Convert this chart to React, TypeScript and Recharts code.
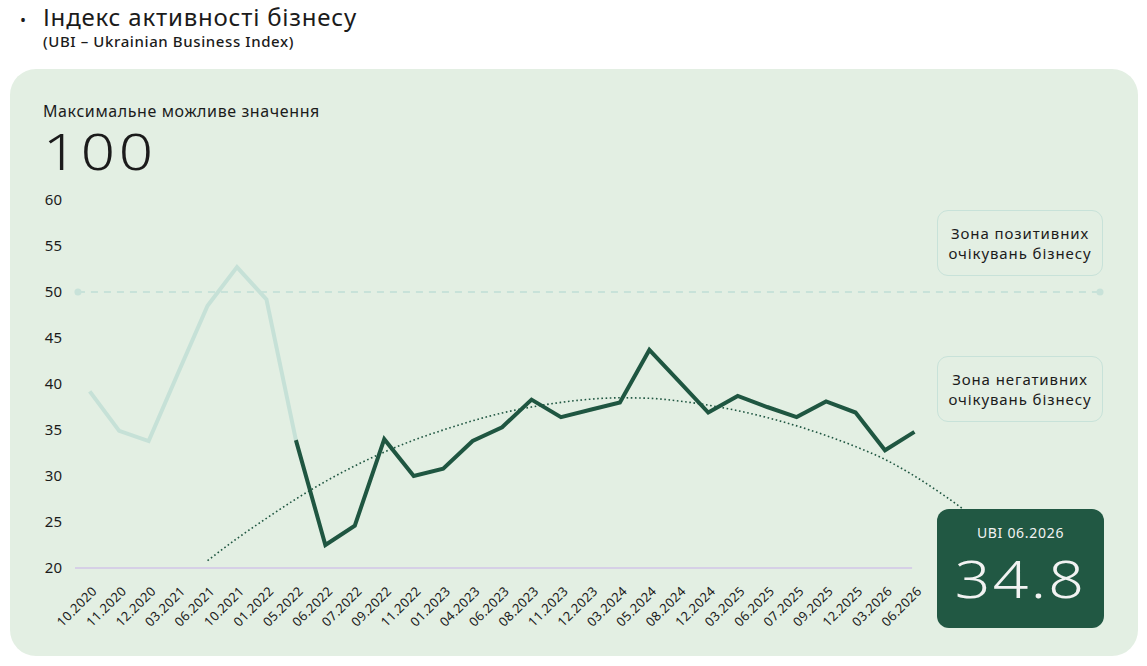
import React from 'react';
import {
  LineChart,
  Line,
  XAxis,
  YAxis,
  ReferenceLine,
  ReferenceDot,
} from 'recharts';

const categories = [
  '10.2020', '11.2020', '12.2020', '03.2021', '06.2021', '10.2021', '01.2022', '05.2022',
  '06.2022', '07.2022', '09.2022', '11.2022', '01.2023', '04.2023', '06.2023', '08.2023',
  '11.2023', '12.2023', '03.2024', '05.2024', '08.2024', '12.2024', '03.2025', '06.2025',
  '07.2025', '09.2025', '12.2025', '03.2026', '06.2026',
];

// 10.2020 – 05.2022 (light line)
const earlyValues = [39.2, 34.9, 33.8, 41.2, 48.5, 52.7, 49.2, 33.9];
const earlyStart = 0;

// 05.2022 – 06.2026 (dark line)
const recentValues = [
  33.9, 22.5, 24.6, 34.0, 30.0, 30.8, 33.8, 35.3, 38.3, 36.4, 37.2, 38.0,
  43.7, 40.3, 36.9, 38.7, 37.5, 36.4, 38.1, 36.9, 32.8, 34.8,
];
const recentStart = 7;

// dotted trend, 06.2021 – 06.2026, plus extrapolated tail
const trendValues = [
  20.8, 23.2, 25.4, 27.5, 29.4, 31.1, 32.6, 33.9, 35.0, 36.0, 36.85, 37.5, 38.0,
  38.35, 38.5, 38.45, 38.15, 37.7, 37.1, 36.35, 35.45, 34.4, 33.2, 31.8, 30.0,
];
const trendStart = 4;
const trendTail = [
  { at: 29, value: 27.9 },
  { at: 30, value: 25.6 },
];

const yTicks = [20, 25, 30, 35, 40, 45, 50, 55, 60];
const thresholdValue = 50;
const latestLabel = 'UBI 06.2026';
const latestValue = '34.8';

const rows: any[] = categories.map((c, i) => ({
  i,
  early: i >= earlyStart && i < earlyStart + earlyValues.length ? earlyValues[i - earlyStart] : undefined,
  recent: i >= recentStart && i < recentStart + recentValues.length ? recentValues[i - recentStart] : undefined,
  trend: i >= trendStart && i < trendStart + trendValues.length ? trendValues[i - trendStart] : undefined,
}));
trendTail.forEach((t) => rows.push({ i: t.at, trend: t.value }));

const FONT = '"Noto Sans", sans-serif';
const TEXT = '#1b1b1b';
const PANEL = '#E3EFE3';
const DARK = '#1F5641';
const LIGHT = '#C6E1D7';
const DASH = '#C8E2D9';
const AXIS = '#D6D0E6';

const XTick = (props: any) => {
  const { x, y, payload } = props;
  const tx = x + 8;
  const ty = y + 24;
  return (
    <text
      x={tx}
      y={ty}
      textAnchor="end"
      transform={`rotate(-45, ${tx}, ${ty})`}
      fontSize={13}
      letterSpacing={0.3}
      fill={TEXT}
      fontFamily={FONT}
    >
      {categories[payload.value]}
    </text>
  );
};

const zoneBox = (top: number, lines: string[]) => (
  <div
    style={{
      position: 'absolute',
      left: 937,
      top,
      width: 166,
      height: 66,
      border: `1.5px solid ${DASH}`,
      borderRadius: 11,
      boxSizing: 'border-box',
      display: 'flex',
      flexDirection: 'column',
      alignItems: 'center',
      justifyContent: 'center',
      fontSize: 15,
      lineHeight: '20px',
      letterSpacing: 0.9,
      color: TEXT,
      fontFamily: FONT,
    }}
  >
    {lines.map((l) => (
      <div key={l}>{l}</div>
    ))}
  </div>
);

export default function App() {
  return (
    <div
      style={{
        position: 'absolute',
        left: 0,
        top: 0,
        width: 1147,
        height: 666,
        background: '#ffffff',
        fontFamily: FONT,
        color: TEXT,
        overflow: 'hidden',
      }}
    >
      <div style={{ position: 'absolute', left: 20, top: 2, fontSize: 24, lineHeight: '30px', fontWeight: 400, letterSpacing: 0.8 }}>
        <span style={{ display: 'inline-block', width: 23, fontSize: 16, verticalAlign: 'middle' }}>•</span>
        Індекс активності бізнесу
      </div>
      <div style={{ position: 'absolute', left: 43, top: 31, fontSize: 15, lineHeight: '20px', fontWeight: 500, letterSpacing: 0.6 }}>
        (UBI – Ukrainian Business Index)
      </div>

      <div
        style={{
          position: 'absolute',
          left: 10,
          top: 69,
          width: 1128,
          height: 587,
          background: PANEL,
          borderRadius: 26,
        }}
      />

      <div style={{ position: 'absolute', left: 43, top: 99, fontSize: 16, lineHeight: '24px', letterSpacing: 0.6 }}>
        Максимальне можливе значення
      </div>
      <div
        style={{
          position: 'absolute',
          left: 43,
          top: 124,
          fontSize: 50,
          lineHeight: '54px',
          fontWeight: 300,
          letterSpacing: 3,
          transform: 'scaleX(1.2)',
          transformOrigin: 'left center',
        }}
      >
        100
      </div>

      <div style={{ position: 'absolute', left: 0, top: 0 }}>
        <LineChart
          width={1147}
          height={666}
          data={rows}
          margin={{ top: 200, right: 47, bottom: 68, left: 0 }}
          style={{ fontFamily: FONT }}
        >
          <XAxis
            dataKey="i"
            type="number"
            domain={[-0.5, 34.3]}
            allowDataOverflow
            ticks={categories.map((_, i) => i)}
            interval={0}
            tick={<XTick />}
            tickSize={0}
            tickMargin={0}
            axisLine={false}
            tickLine={false}
            height={30}
          />
          <YAxis
            type="number"
            domain={[20, 60]}
            ticks={yTicks}
            interval={0}
            axisLine={false}
            tickLine={false}
            tickSize={0}
            tickMargin={13}
            width={75}
            tick={{ fontSize: 15, fill: TEXT, fontFamily: FONT }}
          />
          <ReferenceLine
            segment={[
              { x: -0.5, y: 20 },
              { x: 27.92, y: 20 },
            ]}
            stroke={AXIS}
            strokeWidth={2}
          />
          <ReferenceLine
            segment={[
              { x: -0.4, y: thresholdValue },
              { x: 34.3, y: thresholdValue },
            ]}
            stroke={DASH}
            strokeWidth={2}
            strokeDasharray="7 6"
          />
          <ReferenceDot x={-0.4} y={thresholdValue} r={3.5} fill={DASH} stroke="none" />
          <ReferenceDot x={34.3} y={thresholdValue} r={3.5} fill={DASH} stroke="none" />
          <Line
            dataKey="trend"
            type="monotone"
            stroke={DARK}
            strokeWidth={1.6}
            strokeDasharray="1.6 2.6"
            dot={false}
            activeDot={false}
            isAnimationActive={false}
          />
          <Line
            dataKey="early"
            type="linear"
            stroke={LIGHT}
            strokeWidth={4}
            dot={false}
            activeDot={false}
            isAnimationActive={false}
          />
          <Line
            dataKey="recent"
            type="linear"
            stroke={DARK}
            strokeWidth={4}
            dot={false}
            activeDot={false}
            isAnimationActive={false}
          />
        </LineChart>
      </div>

      {zoneBox(210, ['Зона позитивних', 'очікувань бізнесу'])}
      {zoneBox(356, ['Зона негативних', 'очікувань бізнесу'])}

      <div
        style={{
          position: 'absolute',
          left: 937,
          top: 509,
          width: 167,
          height: 119,
          background: '#215843',
          borderRadius: 12,
          color: '#F2F2F2',
          fontFamily: FONT,
        }}
      >
        <div style={{ position: 'absolute', left: 0, right: 0, top: 14, textAlign: 'center', fontSize: 14, lineHeight: '20px', letterSpacing: 0.7 }}>
          {latestLabel}
        </div>
        <div
          style={{
            position: 'absolute',
            left: 0,
            right: 0,
            top: 37,
            textAlign: 'center',
            fontSize: 52,
            lineHeight: '64px',
            fontWeight: 300,
            letterSpacing: 2,
            transform: 'scaleX(1.2)',
            transformOrigin: 'center center',
          }}
        >
          {latestValue}
        </div>
      </div>
    </div>
  );
}
